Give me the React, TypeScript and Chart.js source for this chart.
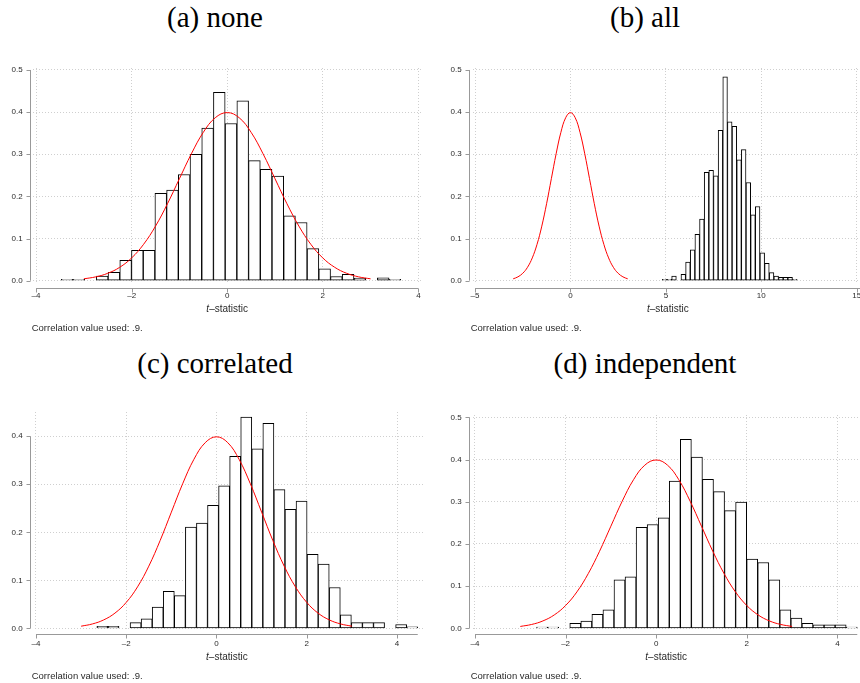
import React, { useEffect, useRef } from "react";
import { Chart, registerables } from "chart.js";

Chart.register(...registerables);

// ---------- data ----------
const titles = ["(a) none", "(b) all", "(c) correlated", "(d) independent"];

// histogram densities (29 bins each)
const heightsNone = [
  0.003, 0.003, 0, 0.011, 0.02, 0.048, 0.072, 0.072, 0.207, 0.215, 0.252, 0.3, 0.362, 0.447, 0.373,
  0.427, 0.285, 0.264, 0.248, 0.154, 0.138, 0.076, 0.028, 0.01, 0.015, 0.006, 0, 0.007, 0.003,
];
const binStartNone = -3.473;
const binWidthNone = 0.245;

const heightsAll = [
  0.003, 0.003, 0.011, 0, 0.015, 0.044, 0.073, 0.11, 0.146, 0.257, 0.262, 0.249, 0.357, 0.484, 0.377,
  0.366, 0.287, 0.311, 0.233, 0.156, 0.176, 0.066, 0.041, 0.019, 0.011, 0.008, 0.008, 0.008, 0.003,
];
const binStartAll = 4.817;
const binWidthAll = 0.2434;

const heightsCorrelated = [
  0.004, 0.004, 0, 0.012, 0.02, 0.044, 0.077, 0.068, 0.211, 0.219, 0.256, 0.297, 0.358, 0.44, 0.374,
  0.427, 0.289, 0.248, 0.265, 0.154, 0.134, 0.085, 0.028, 0.012, 0.012, 0.012, 0, 0.008, 0.003,
];
const binStartCorrelated = -2.651;
const binWidthCorrelated = 0.2452;

const heightsIndependent = [
  0.003, 0.003, 0, 0.012, 0.017, 0.033, 0.044, 0.115, 0.122, 0.239, 0.246, 0.262, 0.349, 0.448, 0.406,
  0.353, 0.324, 0.279, 0.299, 0.164, 0.156, 0.115, 0.044, 0.024, 0.012, 0.008, 0.008, 0.008, 0.003,
];
const binStartIndependent = -2.64;
const binWidthIndependent = 0.2441;

// reference normal density curve
const normalX = [
  -3, -2.75, -2.5, -2.25, -2, -1.75, -1.5, -1.25, -1, -0.75, -0.5, -0.25, 0,
  0.25, 0.5, 0.75, 1, 1.25, 1.5, 1.75, 2, 2.25, 2.5, 2.75, 3,
];
const normalY = [
  0.0044, 0.0091, 0.0175, 0.0317, 0.054, 0.0863, 0.1295, 0.1826, 0.242, 0.3011, 0.3521, 0.3867, 0.3989,
  0.3867, 0.3521, 0.3011, 0.242, 0.1826, 0.1295, 0.0863, 0.054, 0.0317, 0.0175, 0.0091, 0.0044,
];

const xTicksStd = [-4, -2, 0, 2, 4];
const xTicksAll = [-5, 0, 5, 10, 15];
const yTicksHalf = [0, 0.1, 0.2, 0.3, 0.4, 0.5];
const yTicksFour = [0, 0.1, 0.2, 0.3, 0.4];

const noteText = "Correlation value used: .9.";
const xTitleItalic = "t";
const xTitleRest = "\u2013statistic";

// ---------- layout ----------
type Panel = {
  title: string;
  heights: number[];
  binStart: number;
  binWidth: number;
  xTicks: number[];
  yTicks: number[];
  xMin: number;
  xMax: number;
  yMin: number;
  yMax: number;
  xLine: [number, number];
  yLine: [number, number];
  left: number;
  top: number;
  chartLeft: number;
  chartRight: number;
  chartTop: number;
  chartBottom: number;
  yOff: number;
  xOff: number;
  titleTop: number;
};

const CW = 430;
const CH = 300;

const panels: Panel[] = [
  {
    title: titles[0], heights: heightsNone, binStart: binStartNone, binWidth: binWidthNone,
    xTicks: xTicksStd, yTicks: yTicksHalf,
    xMin: -4.064, xMax: 4.097, yMin: -0.0055, yMax: 0.5047,
    xLine: [-4, 4], yLine: [0, 0.5],
    left: 0, top: 40, chartLeft: 33, chartRight: 423, chartTop: 68, chartBottom: 283,
    yOff: 3, xOff: 4.7, titleTop: 3,
  },
  {
    title: titles[1], heights: heightsAll, binStart: binStartAll, binWidth: binWidthAll,
    xTicks: xTicksAll, yTicks: yTicksHalf,
    xMin: -5.105, xMax: 15.17, yMin: -0.0055, yMax: 0.5047,
    xLine: [-5, 15.2], yLine: [0, 0.5],
    left: 430, top: 40, chartLeft: 473, chartRight: 860, chartTop: 68, chartBottom: 283,
    yOff: 4, xOff: 4.7, titleTop: 3,
  },
  {
    title: titles[2], heights: heightsCorrelated, binStart: binStartCorrelated, binWidth: binWidthCorrelated,
    xTicks: xTicksStd, yTicks: yTicksFour,
    xMin: -4.022, xMax: 4.576, yMin: -0.0056, yMax: 0.4506,
    xLine: [-4, 4.46], yLine: [0, 0.4],
    left: 0, top: 383, chartLeft: 35, chartRight: 423, chartTop: 412, chartBottom: 631,
    yOff: 5, xOff: 3.3, titleTop: 349,
  },
  {
    title: titles[3], heights: heightsIndependent, binStart: binStartIndependent, binWidth: binWidthIndependent,
    xTicks: xTicksStd, yTicks: yTicksHalf,
    xMin: -4.044, xMax: 4.5, yMin: -0.0064, yMax: 0.5055,
    xLine: [-4, 4.44], yLine: [0, 0.5],
    left: 430, top: 383, chartLeft: 473, chartRight: 860, chartTop: 415, chartBottom: 631,
    yOff: 4, xOff: 3.3, titleTop: 349,
  },
];

const SANS = "'Liberation Sans', Arial, Helvetica, sans-serif";
const TEXT = "#2b2b2b";
const AXIS = "#999999";
const GRID = "#cfcfcf";

function fmtX(v: number) {
  return v < 0 ? "\u2013" + Math.abs(v) : String(v);
}

function PanelChart({ p }: { p: Panel }) {
  const ref = useRef<HTMLCanvasElement | null>(null);

  useEffect(() => {
    if (!ref.current) return;
    const yWidth = p.chartLeft - p.left;
    const xHeight = CH - (p.chartBottom - p.top);
    const padTop = p.chartTop - p.top;
    const padRight = p.left + CW - p.chartRight;

    const stataPlugin = {
      id: "stataAxes",
      afterDraw(chart: any) {
        const { ctx, chartArea } = chart;
        const xs = chart.scales.x;
        const ys = chart.scales.y;
        ctx.save();
        ctx.strokeStyle = AXIS;
        ctx.lineWidth = 1;
        const ax = Math.round(chartArea.left - p.yOff) + 0.5;
        const ay = Math.round(chartArea.bottom + p.xOff) + 0.5;
        ctx.beginPath();
        ctx.moveTo(ax, ys.getPixelForValue(p.yLine[0]));
        ctx.lineTo(ax, ys.getPixelForValue(p.yLine[1]));
        for (const t of p.yTicks) {
          const py = Math.round(ys.getPixelForValue(t)) + 0.5;
          ctx.moveTo(ax - 4, py);
          ctx.lineTo(ax, py);
        }
        ctx.moveTo(xs.getPixelForValue(p.xLine[0]), ay);
        ctx.lineTo(xs.getPixelForValue(p.xLine[1]), ay);
        for (const t of p.xTicks) {
          const px = Math.round(xs.getPixelForValue(t)) + 0.5;
          ctx.moveTo(px, ay);
          ctx.lineTo(px, ay + 4);
        }
        ctx.stroke();

        // x title with italic t
        ctx.fillStyle = TEXT;
        ctx.textBaseline = "middle";
        ctx.textAlign = "left";
        const fontItalic = `italic 10px ${SANS}`;
        const fontReg = `10px ${SANS}`;
        ctx.font = fontItalic;
        const w1 = ctx.measureText(xTitleItalic).width;
        ctx.font = fontReg;
        const w2 = ctx.measureText(xTitleRest).width;
        const cx = (xs.getPixelForValue(p.xLine[0]) + xs.getPixelForValue(p.xLine[1])) / 2;
        const ty = chartArea.bottom + 26.3;
        const sx = cx - (w1 + w2) / 2;
        ctx.font = fontItalic;
        ctx.fillText(xTitleItalic, sx, ty);
        ctx.font = fontReg;
        ctx.fillText(xTitleRest, sx + w1, ty);

        // note
        ctx.font = `9.5px ${SANS}`;
        ctx.fillText(noteText, ax + 1.2, chartArea.bottom + 45);
        ctx.restore();
      },
    };

    const chart = new Chart(ref.current, {
      type: "bar",
      data: {
        datasets: [
          {
            type: "line",
            data: normalX.map((x, i) => ({ x, y: normalY[i] })),
            borderColor: "#ff0000",
            borderWidth: 1,
            pointRadius: 0,
            tension: 0.4,
            fill: false,
            order: 0,
          } as any,
          {
            type: "bar",
            data: p.heights.map((h, i) => ({ x: p.binStart + (i + 0.5) * p.binWidth, y: h })),
            backgroundColor: "#ffffff",
            borderColor: "#000000",
            borderWidth: 1,
            borderSkipped: false,
            barPercentage: 1,
            categoryPercentage: 1,
            order: 1,
          } as any,
        ],
      },
      options: {
        responsive: false,
        animation: false,
        devicePixelRatio: 1,
        layout: { padding: { top: padTop, right: padRight, bottom: 0, left: 0 } },
        plugins: {
          legend: { display: false },
          tooltip: { enabled: false },
          title: { display: false },
        },
        scales: {
          x: {
            type: "linear",
            offset: false,
            min: p.xMin,
            max: p.xMax,
            grid: { offset: false, color: GRID, drawTicks: false, lineWidth: 1 },
            border: { display: false, dash: [1, 2] },
            ticks: {
              padding: 7.5,
              color: TEXT,
              font: { family: SANS, size: 8 },
              maxRotation: 0,
              autoSkip: false,
              callback: (v: any) => fmtX(Number(v)),
            },
            afterBuildTicks: (s: any) => {
              s.ticks = p.xTicks.map((v) => ({ value: v }));
            },
            afterFit: (s: any) => {
              s.height = xHeight;
              s.paddingLeft = 0;
              s.paddingRight = 0;
            },
          },
          y: {
            type: "linear",
            min: p.yMin,
            max: p.yMax,
            grid: { color: GRID, drawTicks: false, lineWidth: 1 },
            border: { display: false, dash: [1, 2] },
            ticks: {
              padding: p.yOff + 7.3,
              color: TEXT,
              font: { family: SANS, size: 8 },
              autoSkip: false,
              callback: (v: any) => Number(v).toFixed(1),
            },
            afterBuildTicks: (s: any) => {
              s.ticks = p.yTicks.map((v) => ({ value: v }));
            },
            afterFit: (s: any) => {
              s.width = yWidth;
              s.paddingTop = 0;
              s.paddingBottom = 0;
            },
          },
        },
      } as any,
      plugins: [stataPlugin],
    });
    return () => chart.destroy();
  }, [p]);

  return (
    <>
      <div
        style={{
          position: "absolute",
          left: p.left,
          top: p.titleTop,
          width: CW,
          textAlign: "center",
          fontFamily: "'Liberation Serif', 'Times New Roman', serif",
          fontSize: 29,
          lineHeight: "29px",
          color: "#000",
          whiteSpace: "nowrap",
        }}
      >
        {p.title}
      </div>
      <canvas
        ref={ref}
        width={CW}
        height={CH}
        style={{ position: "absolute", left: p.left, top: p.top, width: CW, height: CH, display: "block" }}
      />
    </>
  );
}

export default function App() {
  return (
    <div
      style={{
        position: "absolute",
        left: 0,
        top: 0,
        width: 860,
        height: 683,
        background: "#ffffff",
        overflow: "hidden",
      }}
    >
      {panels.map((p) => (
        <PanelChart key={p.title} p={p} />
      ))}
    </div>
  );
}
